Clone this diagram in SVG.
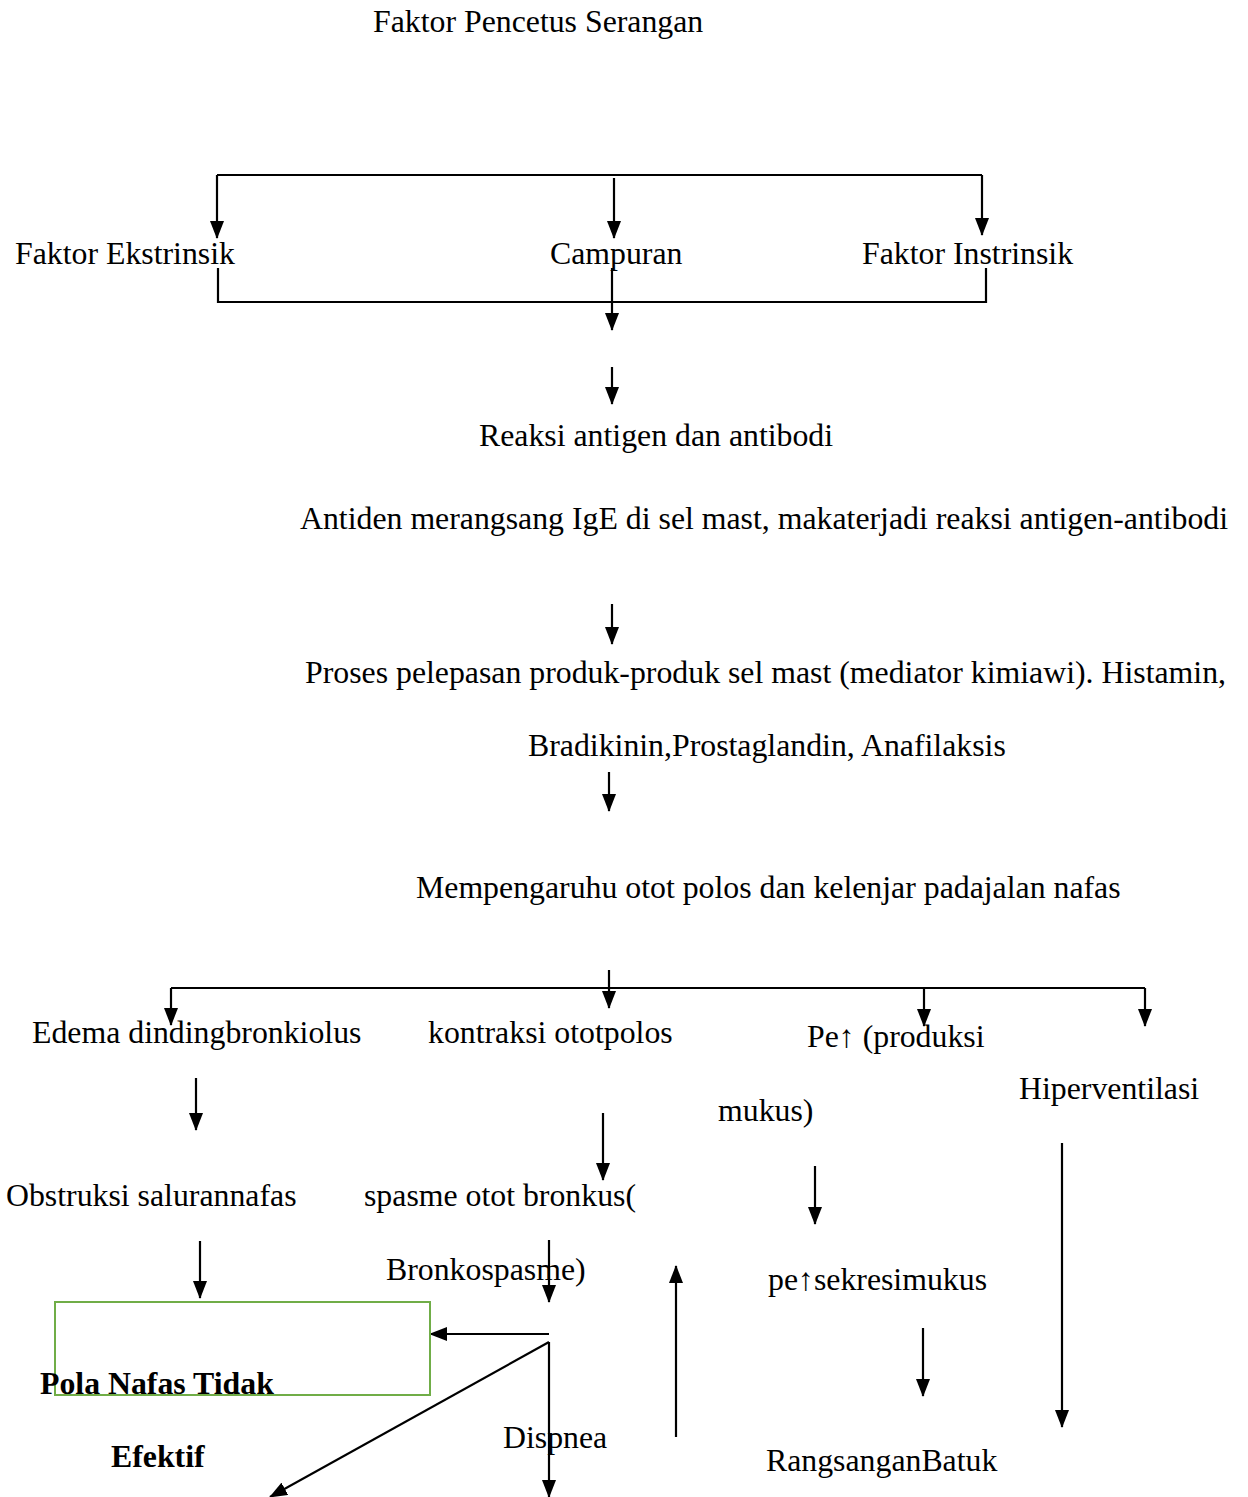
<svg xmlns="http://www.w3.org/2000/svg" width="1248" height="1497" viewBox="0 0 1248 1497">
<style>
text{font-family:"Liberation Serif","Times New Roman",serif;font-size:31.8px;fill:#000}
.b{font-weight:bold}
.c{stroke:#000;stroke-width:2.2;fill:none}
</style>
<defs>
<marker id="ah" viewBox="0 0 18 14" refX="17" refY="7" markerWidth="18" markerHeight="14" markerUnits="userSpaceOnUse" orient="auto">
<path d="M0,0 L18,7 L0,14 Z" fill="#000"/>
</marker>
</defs>
<rect width="1248" height="1497" fill="#fff"/>
<g id="connectors">
<path class="c" d="M217,175 H982"/>
<path class="c" d="M217,175 V238" marker-end="url(#ah)"/>
<path class="c" d="M614,178 V238" marker-end="url(#ah)"/>
<path class="c" d="M982,175 V235" marker-end="url(#ah)"/>
<path class="c" d="M218,268 V302 H986 V268"/>
<path class="c" d="M612,268 V330" marker-end="url(#ah)"/>
<path class="c" d="M612,367 V404" marker-end="url(#ah)"/>
<path class="c" d="M612,604 V644" marker-end="url(#ah)"/>
<path class="c" d="M609,772 V811" marker-end="url(#ah)"/>
<path class="c" d="M609,970 V1008" marker-end="url(#ah)"/>
<path class="c" d="M171,988 H1145"/>
<path class="c" d="M171,988 V1025" marker-end="url(#ah)"/>
<path class="c" d="M924,988 V1026" marker-end="url(#ah)"/>
<path class="c" d="M1145,988 V1026" marker-end="url(#ah)"/>
<path class="c" d="M196,1078 V1130" marker-end="url(#ah)"/>
<path class="c" d="M603,1113 V1180" marker-end="url(#ah)"/>
<path class="c" d="M815,1166 V1224" marker-end="url(#ah)"/>
<path class="c" d="M1062,1143 V1427" marker-end="url(#ah)"/>
<path class="c" d="M200,1241 V1298" marker-end="url(#ah)"/>
<path class="c" d="M549,1240 V1302" marker-end="url(#ah)"/>
<path class="c" d="M676,1437 V1266" marker-end="url(#ah)"/>
<path class="c" d="M923,1328 V1396" marker-end="url(#ah)"/>
<path class="c" d="M549,1334 H430" marker-end="url(#ah)"/>
<path class="c" d="M549,1342 L270,1497" marker-end="url(#ah)"/>
<path class="c" d="M549,1342 V1497" marker-end="url(#ah)"/>
</g>
<g id="n-title"><text x="373" y="32">Faktor Pencetus Serangan</text></g>
<g id="n-ekstrinsik"><text x="15" y="264">Faktor Ekstrinsik</text></g>
<g id="n-campuran"><text x="550" y="264">Campuran</text></g>
<g id="n-instrinsik"><text x="862" y="264">Faktor Instrinsik</text></g>
<g id="n-reaksi"><text x="479" y="446">Reaksi antigen dan antibodi</text></g>
<g id="n-antiden"><text x="300" y="529">Antiden merangsang IgE di sel mast, makaterjadi reaksi antigen-antibodi</text></g>
<g id="n-proses"><text x="305" y="683">Proses pelepasan produk-produk sel mast (mediator kimiawi). Histamin,</text><text x="528" y="756">Bradikinin,Prostaglandin, Anafilaksis</text></g>
<g id="n-mempengaruhi"><text x="416" y="898">Mempengaruhu otot polos dan kelenjar padajalan nafas</text></g>
<g id="n-edema"><text x="32" y="1043">Edema dindingbronkiolus</text></g>
<g id="n-kontraksi"><text x="428" y="1043">kontraksi ototpolos</text></g>
<g id="n-pe"><text x="807" y="1047">Pe↑ (produksi</text><text x="718" y="1121">mukus)</text></g>
<g id="n-hiper"><text x="1019" y="1099">Hiperventilasi</text></g>
<g id="n-obstruksi"><text x="6" y="1206">Obstruksi salurannafas</text></g>
<g id="n-spasme"><text x="364" y="1206">spasme otot bronkus(</text><text x="386" y="1280">Bronkospasme)</text></g>
<g id="n-sekresi"><text x="768" y="1290">pe↑sekresimukus</text></g>
<g id="n-pola"><rect x="55" y="1302" width="375" height="93" fill="none" stroke="#70ad47" stroke-width="2"/><text class="b" x="40" y="1394">Pola Nafas Tidak</text><text class="b" x="111" y="1467">Efektif</text></g>
<g id="n-dispnea"><text x="503" y="1448">Dispnea</text></g>
<g id="n-batuk"><text x="766" y="1471">RangsanganBatuk</text></g>
</svg>
